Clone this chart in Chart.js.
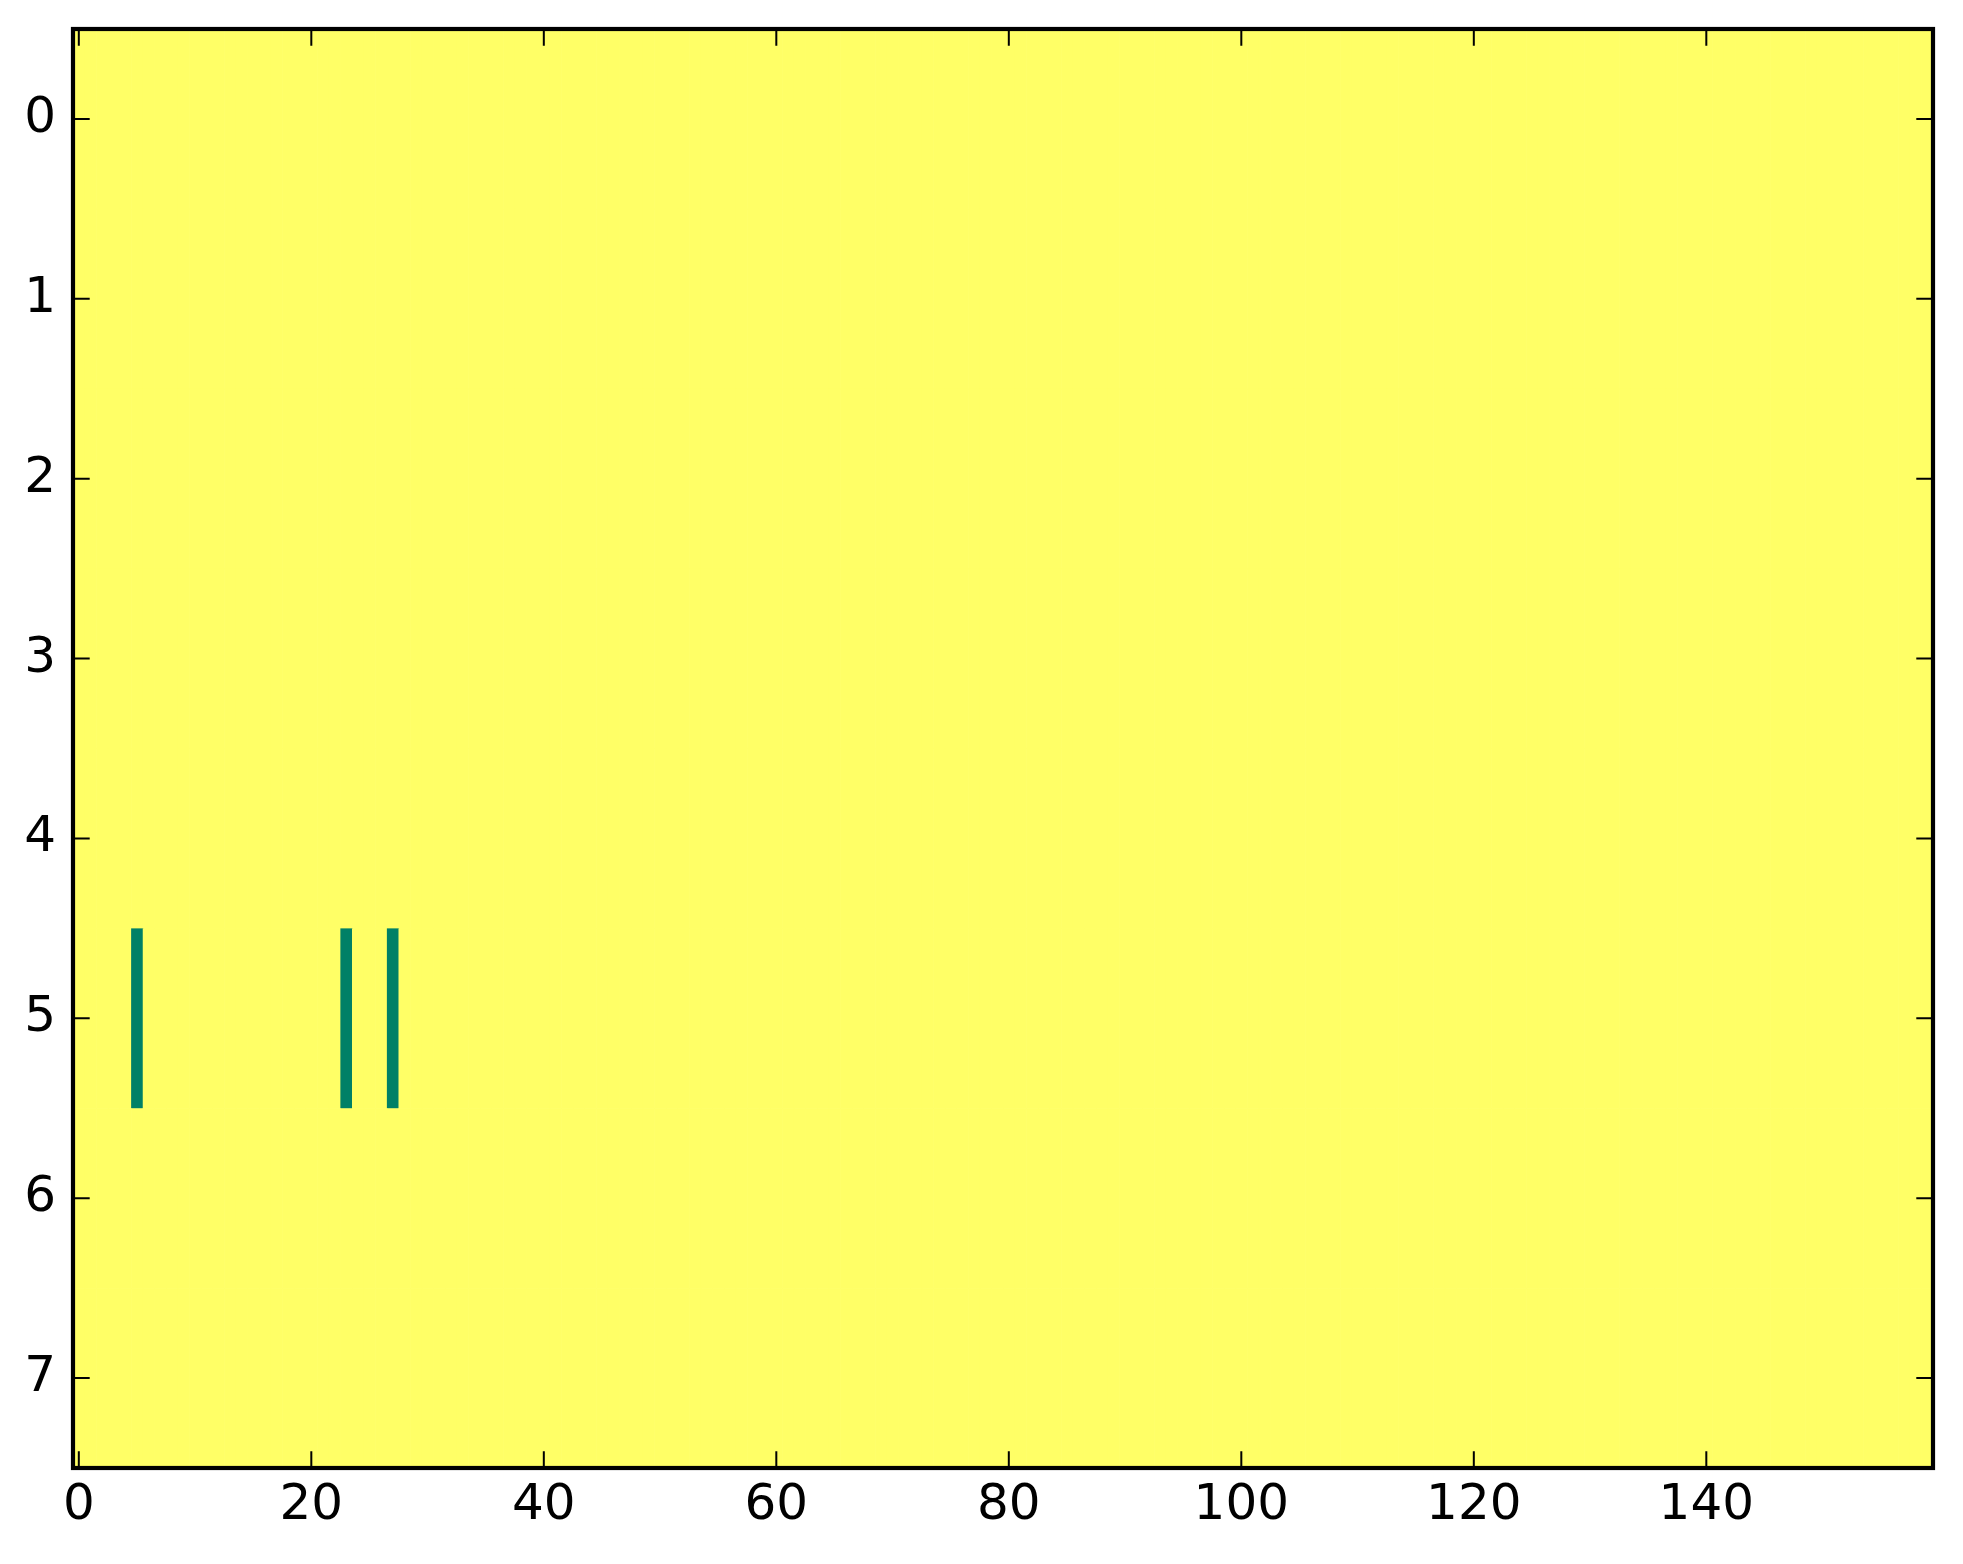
<!DOCTYPE html>
<html>
<head>
<meta charset="utf-8">
<script src="https://cdn.jsdelivr.net/npm/chart.js@4/dist/chart.umd.min.js"></script>
<style>
  html, body { margin: 0; padding: 0; background: #ffffff; }
  canvas { display: block; }
</style>
</head>
<body>
<canvas id="c" width="1963" height="1564"></canvas>
<script>
// ---- data ----
const nRows = 8;                 // image rows (y: 0..7)
const nCols = 160;               // image columns (x: 0..159)
const backgroundValue = 1;       // value of every cell not listed below
const lowRows = [5, 5, 5];       // rows of the low-valued cells
const lowCols = [5, 23, 27];     // columns of the low-valued cells
const lowValues = [0, 0, 0];     // their values
const xTicks = [0, 20, 40, 60, 80, 100, 120, 140];
const yTicks = [0, 1, 2, 3, 4, 5, 6, 7];

// build the cell table
const cells = [];
for (let r = 0; r < nRows; r++) {
  for (let c = 0; c < nCols; c++) {
    cells.push({ x: c, y: r, v: backgroundValue });
  }
}
lowRows.forEach((r, i) => { cells[r * nCols + lowCols[i]].v = lowValues[i]; });

// matplotlib "summer" colormap
function summer(t) {
  const r = Math.round(255 * t), g = Math.round(255 * (0.5 + 0.5 * t)), b = Math.round(255 * 0.4);
  return `rgb(${r},${g},${b})`;
}

const heatmap = {
  id: 'heatmap',
  beforeDatasetsDraw(chart) {
    const { ctx, scales: { x, y }, chartArea } = chart;
    ctx.save();
    ctx.beginPath();
    ctx.rect(chartArea.left, chartArea.top, chartArea.right - chartArea.left, chartArea.bottom - chartArea.top);
    ctx.clip();
    chart.data.datasets[0].data.forEach(d => {
      const x0 = x.getPixelForValue(d.x - 0.5), x1 = x.getPixelForValue(d.x + 0.5);
      const y0 = y.getPixelForValue(d.y - 0.5), y1 = y.getPixelForValue(d.y + 0.5);
      ctx.fillStyle = summer(d.v);
      ctx.fillRect(Math.min(x0, x1), Math.min(y0, y1), Math.abs(x1 - x0) + 0.6, Math.abs(y1 - y0) + 0.6);
    });
    ctx.restore();
  },
  afterDraw(chart) {
    const { ctx, scales: { x, y }, chartArea: a } = chart;
    ctx.save();
    const tl = 16.7;
    ctx.strokeStyle = '#000';
    ctx.lineWidth = 2;
    ctx.beginPath();
    x.ticks.forEach(t => {
      const px = x.getPixelForValue(t.value);
      ctx.moveTo(px, a.bottom); ctx.lineTo(px, a.bottom - tl);
      ctx.moveTo(px, a.top); ctx.lineTo(px, a.top + tl);
    });
    y.ticks.forEach(t => {
      const py = y.getPixelForValue(t.value);
      ctx.moveTo(a.left, py); ctx.lineTo(a.left + tl, py);
      ctx.moveTo(a.right, py); ctx.lineTo(a.right - tl, py);
    });
    ctx.stroke();
    ctx.lineWidth = 4.2;
    ctx.strokeRect(a.left, a.top, a.right - a.left, a.bottom - a.top);
    ctx.restore();
  }
};

new Chart(document.getElementById('c'), {
  type: 'scatter',
  data: { datasets: [{ data: cells, pointRadius: 0, pointHoverRadius: 0 }] },
  options: {
    responsive: false,
    animation: false,
    events: [],
    layout: { padding: { left: 0, top: 29, right: 30, bottom: 0 } },
    plugins: { legend: { display: false }, tooltip: { enabled: false } },
    scales: {
      x: {
        type: 'linear', min: -0.5, max: nCols - 0.5,
        afterBuildTicks: s => { s.ticks = xTicks.map(v => ({ value: v })); },
        afterFit: s => { s.height = 96; s.paddingLeft = 0; s.paddingRight = 0; },
        grid: { display: false, drawTicks: false },
        border: { display: false },
        ticks: { color: '#000', padding: 8, maxRotation: 0, autoSkip: false,
                 font: { family: 'DejaVu Sans', size: 50 } }
      },
      y: {
        type: 'linear', reverse: true, min: -0.5, max: nRows - 0.5,
        afterBuildTicks: s => { s.ticks = yTicks.map(v => ({ value: v })); },
        afterFit: s => { s.width = 73; s.paddingTop = 0; s.paddingBottom = 0; },
        grid: { display: false, drawTicks: false },
        border: { display: false },
        ticks: { color: '#000', padding: 17, autoSkip: false,
                 font: { family: 'DejaVu Sans', size: 50 } }
      }
    }
  },
  plugins: [heatmap]
});
</script>
</body>
</html>
